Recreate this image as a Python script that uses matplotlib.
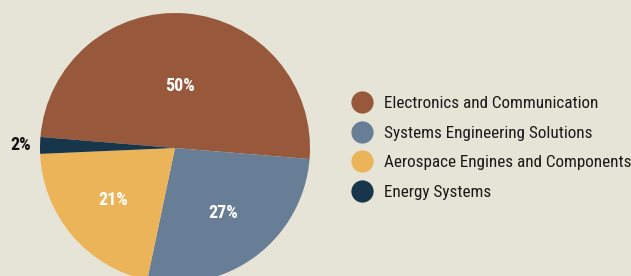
import matplotlib.pyplot as plt
from matplotlib.lines import Line2D

# data
sectors = ['Electronics and Communication', 'Systems Engineering Solutions',
           'Aerospace Engines and Components', 'Energy Systems']
shares = [50, 27, 21, 2]
colors = ['#97583B', '#687D96', '#ECB458', '#17354B']
bg = '#E6E3D7'

plt.rcParams['font.family'] = ['Roboto Condensed', 'DejaVu Sans']

fig = plt.figure(figsize=(6.31, 2.76), dpi=100, facecolor=bg)
# pie axes placed in pixels: centre (175,148), radius 135
ax = fig.add_axes([40/631, -7/276, 270/631, 270/276])
ax.set_facecolor(bg)

pd = 0.6
wedges, texts, autotexts = ax.pie(shares, colors=colors, startangle=175.3,
                                  counterclock=False, autopct='%d%%',
                                  pctdistance=pd,
                                  wedgeprops=dict(linewidth=0),
                                  textprops=dict(color='white', fontsize=13, fontweight='bold'))
ax.set_xlim(-1, 1)
ax.set_ylim(-1, 1)

# the big slice label sits a little closer to the centre
x, y = autotexts[0].get_position()
autotexts[0].set_position((x*0.77, y*0.77))
# small slice label goes outside
x, y = autotexts[3].get_position()
autotexts[3].set_position((x/pd*1.14, y/pd*1.14))
autotexts[3].set_color('#111111')

handles = [Line2D([], [], marker='o', linestyle='none', markersize=16,
                  markerfacecolor=c, markeredgewidth=0) for c in colors]
leg = fig.legend(handles, sectors, loc='upper left', bbox_to_anchor=(347/631, 1-89/276),
                 frameon=False, fontsize=12.3, handlelength=1.0, handletextpad=0.78,
                 labelspacing=0.86, borderaxespad=0)
for t in leg.get_texts():
    t.set_color('#1a1a1a')

plt.savefig('out.png', dpi=100, facecolor=bg)
